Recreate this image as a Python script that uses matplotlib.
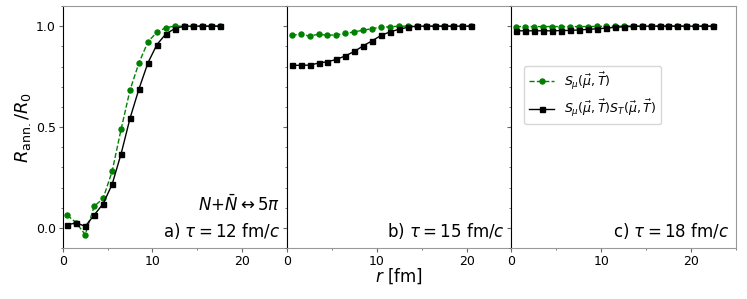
import matplotlib
matplotlib.use('Agg')
import matplotlib.pyplot as plt
from matplotlib.ticker import MultipleLocator

# radial positions for each panel
r_a = [0.5, 1.5, 2.5, 3.5, 4.5, 5.5, 6.5, 7.5, 8.5, 9.5, 10.5, 11.5, 12.5,
       13.5, 14.5, 15.5, 16.5, 17.5]
r_b = r_a + [18.5, 19.5, 20.5]
r_c = r_b + [21.5, 22.5]

# tau = 12 fm/c
smu_a = [0.063, 0.026, -0.033, 0.107, 0.147, 0.28, 0.489, 0.684, 0.819,
         0.923, 0.97, 0.993, 1.0, 1.0, 1.0, 1.0, 1.0, 1.0]
smust_a = [0.015, 0.026, 0.008, 0.064, 0.12, 0.216, 0.367, 0.544, 0.69,
           0.819, 0.909, 0.962, 0.988, 1.0, 1.0, 1.0, 1.0, 1.0]

# tau = 15 fm/c
smu_b = [0.955, 0.96, 0.951, 0.96, 0.955, 0.957, 0.964, 0.972, 0.98, 0.988,
         0.995, 0.997, 1.0, 1.0, 1.0, 1.0, 1.0, 1.0, 1.0, 1.0, 1.0]
smust_b = [0.806, 0.806, 0.807, 0.817, 0.824, 0.835, 0.853, 0.875, 0.903,
           0.928, 0.955, 0.972, 0.985, 0.995, 1.0, 1.0, 1.0, 1.0, 1.0, 1.0, 1.0]

# tau = 18 fm/c
smu_c = [0.998, 0.998, 0.998, 0.998, 0.998, 0.998, 0.998, 0.998, 0.998,
         0.999, 0.999, 0.999, 1.0, 1.0, 1.0, 1.0, 1.0, 1.0, 1.0, 1.0, 1.0,
         1.0, 1.0]
smust_c = [0.977, 0.977, 0.977, 0.977, 0.977, 0.978, 0.979, 0.981, 0.984,
           0.987, 0.99, 0.994, 0.997, 0.999, 1.0, 1.0, 1.0, 1.0, 1.0, 1.0,
           1.0, 1.0, 1.0]

panels = [(r_a, smu_a, smust_a, r'a) $\tau = 12$ fm/$c$'),
          (r_b, smu_b, smust_b, r'b) $\tau = 15$ fm/$c$'),
          (r_c, smu_c, smust_c, r'c) $\tau = 18$ fm/$c$')]

fig, axes = plt.subplots(1, 3, sharey=True, figsize=(7.47, 2.99), dpi=100)
fig.subplots_adjust(left=0.084, right=0.985, bottom=0.17, top=0.98, wspace=0)

for ax, (r, s1, s2, lab) in zip(axes, panels):
    ax.plot(r, s1, '--o', color='green', ms=3.6, lw=1,
            label=r'$S_\mu(\vec{\mu},\vec{T})$')
    ax.plot(r, s2, '-s', color='black', ms=3.6, lw=1,
            label=r'$S_\mu(\vec{\mu},\vec{T})S_T(\vec{\mu},\vec{T})$')
    ax.set_xlim(0, 25)
    ax.set_ylim(-0.1, 1.1)
    ax.xaxis.set_major_locator(MultipleLocator(10))
    ax.xaxis.set_minor_locator(MultipleLocator(5))
    ax.yaxis.set_major_locator(MultipleLocator(0.5))
    ax.yaxis.set_minor_locator(MultipleLocator(0.1))
    ax.tick_params(which='both', direction='out', labelsize=9, color='0.4',
                   pad=2)
    ax.tick_params(which='major', length=3)
    ax.tick_params(which='minor', length=1.5)
    for s in ['top', 'right', 'bottom']:
        ax.spines[s].set_color('0.6')
    ax.spines['left'].set_color('black')
    ax.text(0.97, 0.07, lab, transform=ax.transAxes, ha='right',
            va='center', fontsize=12)

axes[0].text(0.97, 0.18, r'$N{+}\bar{N}\leftrightarrow 5\pi$',
             transform=axes[0].transAxes, ha='right', va='center', fontsize=12)
axes[0].set_ylabel(r'$R_{\rm ann.}/R_0$', fontsize=13, labelpad=2)
axes[1].set_xlabel(r'$r$ [fm]', fontsize=12, labelpad=-1)
axes[2].legend(loc='upper left', bbox_to_anchor=(0.03, 0.78), fontsize=9)

plt.savefig('out.png')
